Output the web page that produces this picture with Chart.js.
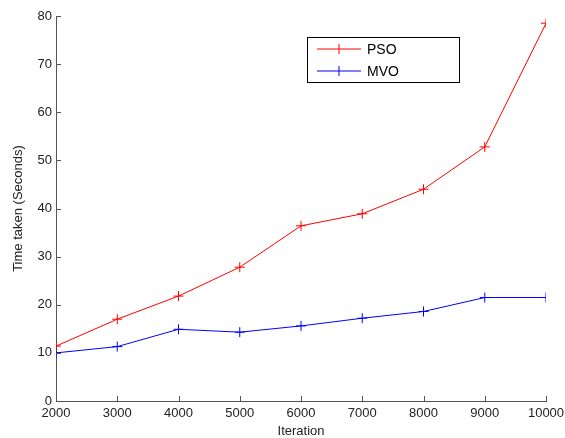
<!DOCTYPE html>
<html>
<head>
<meta charset="utf-8">
<script src="https://cdn.jsdelivr.net/npm/chart.js@4/dist/chart.umd.min.js"></script>
<style>
  html, body { margin: 0; padding: 0; background: #fff; }
  #wrap { width: 565px; height: 438px; }
</style>
</head>
<body>
<div id="wrap"><canvas id="chart" width="565" height="438"></canvas></div>
<script>
// Data
const iterations = [2000, 3000, 4000, 5000, 6000, 7000, 8000, 9000, 10000];
const psoTimes = [11.4, 17.0, 21.8, 27.8, 36.4, 38.9, 44.0, 52.8, 78.5];
const mvoTimes = [10.0, 11.3, 14.9, 14.3, 15.6, 17.2, 18.6, 21.5, 21.5];
const xTicks = [2000, 3000, 4000, 5000, 6000, 7000, 8000, 9000, 10000];
const yTicks = [0, 10, 20, 30, 40, 50, 60, 70, 80];

const FONT = 'Liberation Sans, Arial, sans-serif';
const AXIS_COLOR = '#555';
const TEXT_COLOR = '#222';

const toPoints = ys => iterations.map((x, i) => ({ x, y: ys[i] }));

// inward tick marks, matlab style
const inwardTicks = {
  id: 'inwardTicks',
  afterDraw(chart) {
    const { ctx, scales: { x, y } } = chart;
    ctx.save();
    ctx.strokeStyle = AXIS_COLOR;
    ctx.lineWidth = 1;
    ctx.beginPath();
    xTicks.forEach(v => {
      const px = Math.round(x.getPixelForValue(v)) + 0.5;
      ctx.moveTo(px, y.bottom);
      ctx.lineTo(px, y.bottom - 5);
    });
    yTicks.forEach(v => {
      const py = Math.round(y.getPixelForValue(v)) + 0.5;
      ctx.moveTo(x.left, py);
      ctx.lineTo(x.left + 5, py);
    });
    ctx.stroke();
    ctx.restore();
  }
};

// boxed legend in the upper middle
const boxLegend = {
  id: 'boxLegend',
  afterDraw(chart) {
    const { ctx } = chart;
    const bx = 307.5, by = 37.5, bw = 152, bh = 45;
    ctx.save();
    ctx.fillStyle = '#fff';
    ctx.fillRect(bx, by, bw, bh);
    ctx.strokeStyle = '#000';
    ctx.lineWidth = 1;
    ctx.strokeRect(bx, by, bw, bh);
    chart.data.datasets.forEach((ds, i) => {
      const ly = 49 + i * 22;
      ctx.strokeStyle = ds.borderColor;
      ctx.beginPath();
      ctx.moveTo(317, ly);
      ctx.lineTo(361, ly);
      ctx.moveTo(339, ly - 5);
      ctx.lineTo(339, ly + 5);
      ctx.stroke();
      ctx.fillStyle = '#000';
      ctx.font = '14px ' + FONT;
      ctx.textBaseline = 'middle';
      ctx.fillText(ds.label, 367, ly + 1);
    });
    ctx.restore();
  }
};

new Chart(document.getElementById('chart'), {
  type: 'line',
  data: {
    datasets: [
      {
        label: 'PSO',
        data: toPoints(psoTimes),
        borderColor: '#ff0000',
        borderWidth: 1,
        pointStyle: 'cross',
        pointRadius: 5,
        pointBorderWidth: 1,
        pointBorderColor: '#ff0000',
        tension: 0,
      },
      {
        label: 'MVO',
        data: toPoints(mvoTimes),
        borderColor: '#0000ff',
        borderWidth: 1,
        pointStyle: 'cross',
        pointRadius: 5,
        pointBorderWidth: 1,
        pointBorderColor: '#0000ff',
        tension: 0,
      },
    ],
  },
  options: {
    responsive: false,
    animation: false,
    layout: { padding: { top: 16, right: 19, left: 0, bottom: 0 } },
    plugins: {
      legend: { display: false },
      tooltip: { enabled: false },
    },
    scales: {
      x: {
        type: 'linear',
        min: 2000,
        max: 10000,
        afterBuildTicks: s => { s.ticks = xTicks.map(v => ({ value: v })); },
        afterFit: s => { s.height = 37; s.paddingLeft = 0; s.paddingRight = 0; },
        grid: { display: false, drawTicks: false },
        border: { display: true, color: AXIS_COLOR, width: 1 },
        ticks: {
          color: TEXT_COLOR,
          font: { family: FONT, size: 13 },
          padding: 5,
          maxRotation: 0,
          callback: v => String(v),
        },
        title: {
          display: true,
          text: 'Iteration',
          color: TEXT_COLOR,
          font: { family: FONT, size: 13, lineHeight: 1 },
          padding: { top: 0, bottom: 0 },
        },
      },
      y: {
        min: 0,
        max: 80,
        afterBuildTicks: s => { s.ticks = yTicks.map(v => ({ value: v })); },
        afterFit: s => { s.width = 56; s.paddingTop = 0; s.paddingBottom = 0; },
        grid: { display: false, drawTicks: false },
        border: { display: true, color: AXIS_COLOR, width: 1 },
        ticks: {
          color: TEXT_COLOR,
          font: { family: FONT, size: 13 },
          padding: 4,
        },
        title: {
          display: true,
          text: 'Time taken (Seconds)',
          color: TEXT_COLOR,
          font: { family: FONT, size: 13, lineHeight: 1 },
          padding: { top: 12, bottom: 0 },
        },
      },
    },
  },
  plugins: [inwardTicks, boxLegend],
});
</script>
</body>
</html>
